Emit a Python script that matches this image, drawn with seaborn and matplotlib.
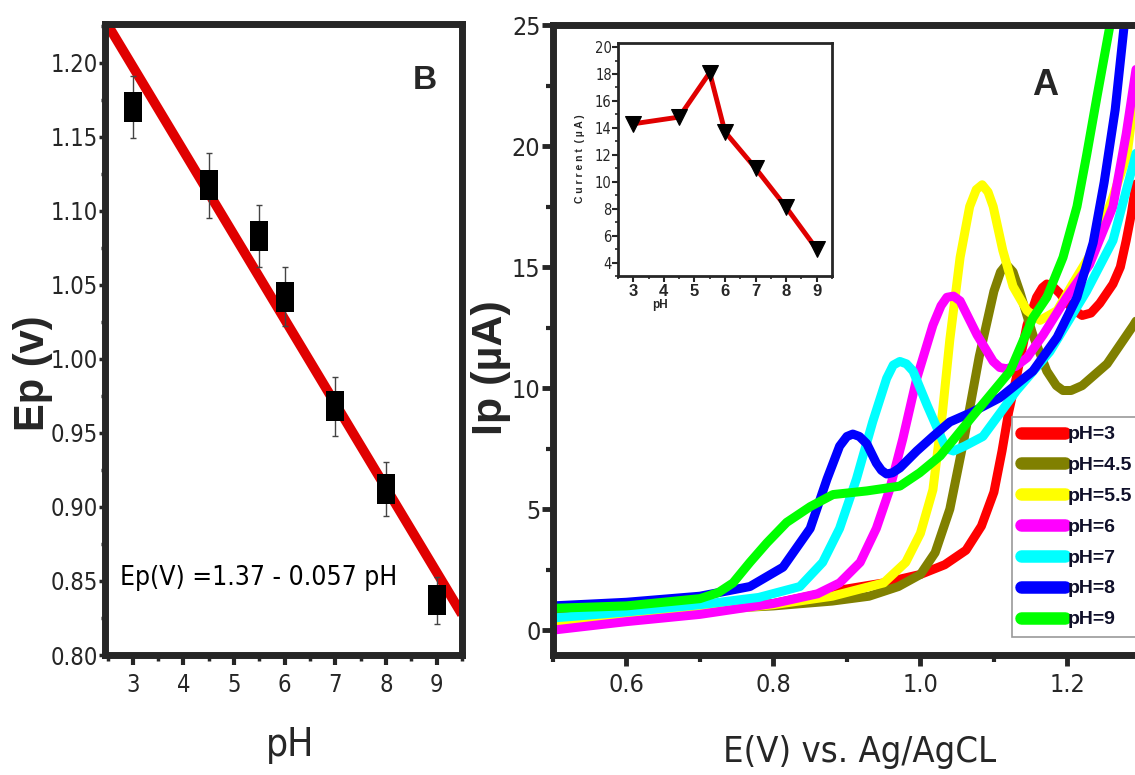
import matplotlib
matplotlib.use('Agg')
import matplotlib.pyplot as plt
from matplotlib.ticker import MultipleLocator, FormatStrFormatter
import seaborn as sns

# panel B: peak potential vs pH
ph = [3, 4.5, 5.5, 6, 7, 8, 9]
ep = [1.170, 1.117, 1.083, 1.042, 0.968, 0.912, 0.837]
ep_err = [0.021, 0.022, 0.021, 0.020, 0.020, 0.018, 0.016]

# inset: peak current vs pH
current = [14.3, 14.8, 18.1, 13.7, 11.0, 8.1, 5.0]

# panel A: voltammograms (E in V, Ip in uA)
e_ph3 = [0.50, 0.60, 0.70, 0.80, 0.88, 0.95, 1.00, 1.033, 1.062, 1.083, 1.10, 1.111, 1.12, 1.131,
         1.145, 1.158, 1.166, 1.172, 1.18, 1.19, 1.20, 1.21, 1.22, 1.232, 1.244, 1.262, 1.272,
         1.28, 1.287, 1.292, 1.30]
i_ph3 = [0.35, 0.55, 0.80, 1.10, 1.60, 1.95, 2.30, 2.70, 3.30, 4.30, 5.70, 7.40, 9.00, 10.5,
         12.6, 13.75, 14.15, 14.3, 14.2, 13.9, 13.5, 13.2, 13.0, 13.1, 13.5, 14.3, 15.0,
         16.1, 17.2, 18.2, 19.6]

e_ph45 = [0.50, 0.60, 0.70, 0.80, 0.88, 0.93, 0.97, 1.00, 1.02, 1.04, 1.06, 1.08, 1.10, 1.109,
          1.117, 1.126, 1.135, 1.153, 1.172, 1.185, 1.194, 1.205, 1.22, 1.254, 1.29, 1.30]
i_ph45 = [0.70, 0.75, 0.85, 1.00, 1.20, 1.40, 1.80, 2.30, 3.20, 5.00, 8.00, 11.3, 14.0, 14.8,
          15.1, 14.8, 14.0, 12.2, 10.7, 10.1, 9.9, 9.9, 10.1, 11.0, 12.6, 13.1]

e_ph55 = [0.50, 0.60, 0.70, 0.80, 0.88, 0.95, 0.98, 1.00, 1.017, 1.03, 1.04, 1.054, 1.067, 1.076,
          1.084, 1.092, 1.099, 1.112, 1.126, 1.145, 1.163, 1.186, 1.207, 1.235, 1.262, 1.281,
          1.292, 1.30]
i_ph55 = [0.30, 0.50, 0.75, 1.05, 1.40, 1.95, 2.80, 4.00, 5.80, 9.00, 12.0, 15.4, 17.5, 18.2,
          18.4, 18.1, 17.5, 15.7, 14.2, 13.2, 12.8, 13.2, 14.3, 15.7, 17.9, 19.6,
          22.2, 23.5]

e_ph6 = [0.50, 0.60, 0.70, 0.80, 0.86, 0.89, 0.918, 0.94, 0.958, 0.976, 0.995, 1.017, 1.028, 1.036,
         1.045, 1.054, 1.077, 1.099, 1.108, 1.117, 1.13, 1.145, 1.167, 1.199, 1.23, 1.262, 1.28,
         1.292, 1.30]
i_ph6 = [0.00, 0.35, 0.65, 1.10, 1.50, 1.95, 2.80, 4.20, 5.80, 7.90, 10.4, 12.6, 13.4, 13.75,
         13.8, 13.6, 12.2, 11.1, 10.85, 10.8, 10.9, 11.25, 12.2, 13.75, 15.1, 17.5, 20.5,
         22.9, 24.5]

e_ph7 = [0.50, 0.60, 0.70, 0.78, 0.836, 0.867, 0.89, 0.913, 0.935, 0.954, 0.963, 0.972, 0.981,
         0.99, 1.009, 1.027, 1.035, 1.045, 1.06, 1.085, 1.131, 1.176, 1.226, 1.262, 1.29, 1.30]
i_ph7 = [0.50, 0.75, 1.05, 1.35, 1.80, 2.80, 4.20, 6.25, 8.60, 10.4, 10.95, 11.1, 11.0,
         10.7, 9.30, 8.05, 7.50, 7.40, 7.60, 8.00, 9.90, 11.5, 14.0, 16.1, 19.3, 20.5]

e_ph8 = [0.50, 0.60, 0.70, 0.768, 0.813, 0.85, 0.873, 0.89, 0.90, 0.908, 0.917, 0.927, 0.94, 0.947,
         0.954, 0.962, 0.972, 0.995, 1.017, 1.04, 1.07, 1.108, 1.153, 1.186, 1.213, 1.235, 1.25,
         1.265, 1.278, 1.285]
i_ph8 = [1.00, 1.15, 1.40, 1.80, 2.60, 4.20, 6.25, 7.60, 8.00, 8.10, 8.00, 7.70, 6.90, 6.60,
         6.45, 6.50, 6.70, 7.40, 8.00, 8.60, 9.00, 9.60, 10.7, 12.1, 13.75, 16.0, 18.5,
         21.5, 25.2, 27.0]

e_ph9 = [0.50, 0.60, 0.70, 0.725, 0.745, 0.768, 0.791, 0.818, 0.85, 0.881, 0.927, 0.972, 0.999,
         1.027, 1.07, 1.122, 1.153, 1.172, 1.194, 1.213, 1.226, 1.24, 1.258, 1.265]
i_ph9 = [0.90, 1.00, 1.30, 1.55, 1.95, 2.80, 3.60, 4.45, 5.10, 5.60, 5.75, 5.95, 6.50,
         7.20, 8.80, 10.7, 12.9, 13.75, 15.4, 17.5, 19.6, 22.0, 25.0, 26.5]

labels = ['pH=3', 'pH=4.5', 'pH=5.5', 'pH=6', 'pH=7', 'pH=8', 'pH=9']
colors = ['#ff0000', '#808000', '#ffff00', '#ff00ff', '#00ffff', '#0000ff', '#00ff00']

sns.set_style('ticks')
plt.rcParams['font.family'] = ['DejaVu Sans']
plt.rcParams['axes.linewidth'] = 4
narrow = ['DejaVu Sans']
wide = ['Liberation Sans', 'DejaVu Sans']
cond = dict(family=narrow, stretch='condensed')

fig = plt.figure(figsize=(11.35, 7.75), dpi=100)
axB = fig.add_axes([0.0925, 0.1548, 0.3145, 0.8142])
axA = fig.add_axes([0.4872, 0.1548, 0.518, 0.8129])
axI = fig.add_axes([0.5445, 0.6439, 0.1885, 0.3006])

# ---- panel B
axB.set_xlim(2.45, 9.5)
axB.set_ylim(0.80, 1.226)
sns.regplot(x=ph, y=ep, ax=axB, scatter=False, ci=None, truncate=False,
            line_kws=dict(color='#e00000', lw=7, solid_capstyle='butt', zorder=2))
axB.errorbar(ph, ep, yerr=ep_err, fmt='none', ecolor='#444444', elinewidth=1, capsize=2, zorder=3)
rect = [(-0.62, -1), (0.62, -1), (0.62, 1), (-0.62, 1), (-0.62, -1)]
sns.scatterplot(x=ph, y=ep, ax=axB, marker=rect, s=470, color='black', edgecolor='black',
                linewidth=0, zorder=4)
axB.set_xlim(2.45, 9.5)
axB.set_ylim(0.80, 1.226)
axB.xaxis.set_major_locator(MultipleLocator(1))
axB.xaxis.set_minor_locator(MultipleLocator(0.5))
axB.yaxis.set_major_locator(MultipleLocator(0.05))
axB.yaxis.set_minor_locator(MultipleLocator(0.025))
axB.yaxis.set_major_formatter(FormatStrFormatter('%.2f'))
axB.tick_params(axis='x', which='major', direction='out', length=7, width=3, labelsize=17, pad=6)
axB.tick_params(axis='x', which='minor', direction='out', length=4, width=2.5)
axB.tick_params(axis='y', which='major', direction='out', length=4, width=2.5, labelsize=17, pad=1)
axB.tick_params(axis='y', which='minor', direction='out', length=3, width=2.5)
for t in axB.get_xticklabels() + axB.get_yticklabels():
    t.set_family(narrow)
    t.set_stretch('condensed')
axB.set_xlabel('')
axB.set_ylabel('')
axB.text(0.042, 0.122, 'Ep(V) =1.37 - 0.057 pH', transform=axB.transAxes, fontsize=19,
         va='center', ha='left', color='black', **cond)
axB.text(0.896, 0.911, 'B', transform=axB.transAxes, family=wide, fontweight='bold',
         fontsize=24, va='center', ha='center')

# ---- panel A
series = [(e_ph3, i_ph3), (e_ph45, i_ph45), (e_ph55, i_ph55), (e_ph6, i_ph6),
          (e_ph7, i_ph7), (e_ph8, i_ph8), (e_ph9, i_ph9)]
for (e, cur), lab, col in zip(series, labels, colors):
    sns.lineplot(x=e, y=cur, ax=axA, color=col, lw=6.5, label=lab, sort=False,
                 estimator=None, solid_capstyle='round', solid_joinstyle='round')
axA.set_xlim(0.5, 1.3)
axA.set_ylim(-1.03, 25)
axA.xaxis.set_major_locator(MultipleLocator(0.2))
axA.xaxis.set_minor_locator(MultipleLocator(0.1))
axA.xaxis.set_major_formatter(FormatStrFormatter('%.1f'))
axA.yaxis.set_major_locator(MultipleLocator(5))
axA.yaxis.set_minor_locator(MultipleLocator(2.5))
axA.tick_params(axis='both', which='major', direction='out', length=8, width=3.5, labelsize=18, pad=5)
axA.tick_params(axis='both', which='minor', direction='out', length=5, width=3)
axA.tick_params(axis='y', pad=1)
for t in axA.get_xticklabels() + axA.get_yticklabels():
    t.set_family(narrow)
    t.set_stretch('condensed')
axA.set_xlabel('')
axA.set_ylabel('')
for s in axA.spines.values():
    s.set_linewidth(5)
for s in axB.spines.values():
    s.set_linewidth(5)
leg = axA.legend(loc='upper left', bbox_to_anchor=(0.8916, 0.462), bbox_transform=fig.transFigure,
                 prop=dict(family=wide, weight='bold', size=14), handlelength=2.3,
                 handletextpad=0.1, labelspacing=0.68, borderpad=0.45, borderaxespad=0,
                 fancybox=False, framealpha=1, edgecolor='#999999')
leg.get_frame().set_linewidth(1.2)
for h in leg.legend_handles:
    h.set_linewidth(9)
for t in leg.get_texts():
    t.set_color('#10102a')
fig.text(0.9207, 0.8903, 'A', family=wide, fontweight='bold', fontsize=26, ha='center', va='center')

# ---- inset
sns.lineplot(x=ph, y=current, ax=axI, color='#e00000', lw=3.5, marker='v', markersize=11,
             markerfacecolor='black', markeredgecolor='black', sort=False, zorder=3)
axI.set_xlim(2.5, 9.5)
axI.set_ylim(3.0, 20.3)
axI.set_xticks(range(3, 10))
axI.xaxis.set_minor_locator(MultipleLocator(0.5))
axI.yaxis.set_major_locator(MultipleLocator(2))
axI.yaxis.set_minor_locator(MultipleLocator(1))
axI.tick_params(axis='both', which='major', direction='out', length=4, width=1.5, labelsize=12, pad=2)
axI.tick_params(axis='both', which='minor', direction='out', length=2.5, width=1.2)
axI.tick_params(axis='y', pad=0.5, labelsize=10.5)
for t in axI.get_xticklabels():
    t.set_family(wide)
    t.set_fontweight('bold')
for t in axI.get_yticklabels():
    t.set_family(narrow)
    t.set_stretch('condensed')
for s in axI.spines.values():
    s.set_linewidth(2)
axI.set_xlabel('')
axI.set_ylabel('')
fig.text(0.5815, 0.6065, 'pH', family=wide, fontweight='bold', fontsize=8.5, ha='center', va='center')
fig.text(0.511, 0.795, 'C u r r e n t  ( \u00b5 A )', family=wide, fontweight='bold', fontsize=7.5,
         rotation=90, ha='center', va='center')

# ---- axis titles
fig.text(0.029, 0.519, 'Ep (v)', family=wide, fontweight='bold', fontsize=30, rotation=90,
         ha='center', va='center')
fig.text(0.256, 0.039, 'pH', fontsize=28, ha='center', va='center', **cond)
fig.text(0.4325, 0.526, 'Ip (\u00b5A)', family=wide, fontweight='bold', fontsize=31, rotation=90,
         ha='center', va='center')
fig.text(0.7577, 0.03, 'E(V) vs. Ag/AgCL', fontsize=26, ha='center', va='center', **cond)

fig.savefig('out.png', dpi=100)
